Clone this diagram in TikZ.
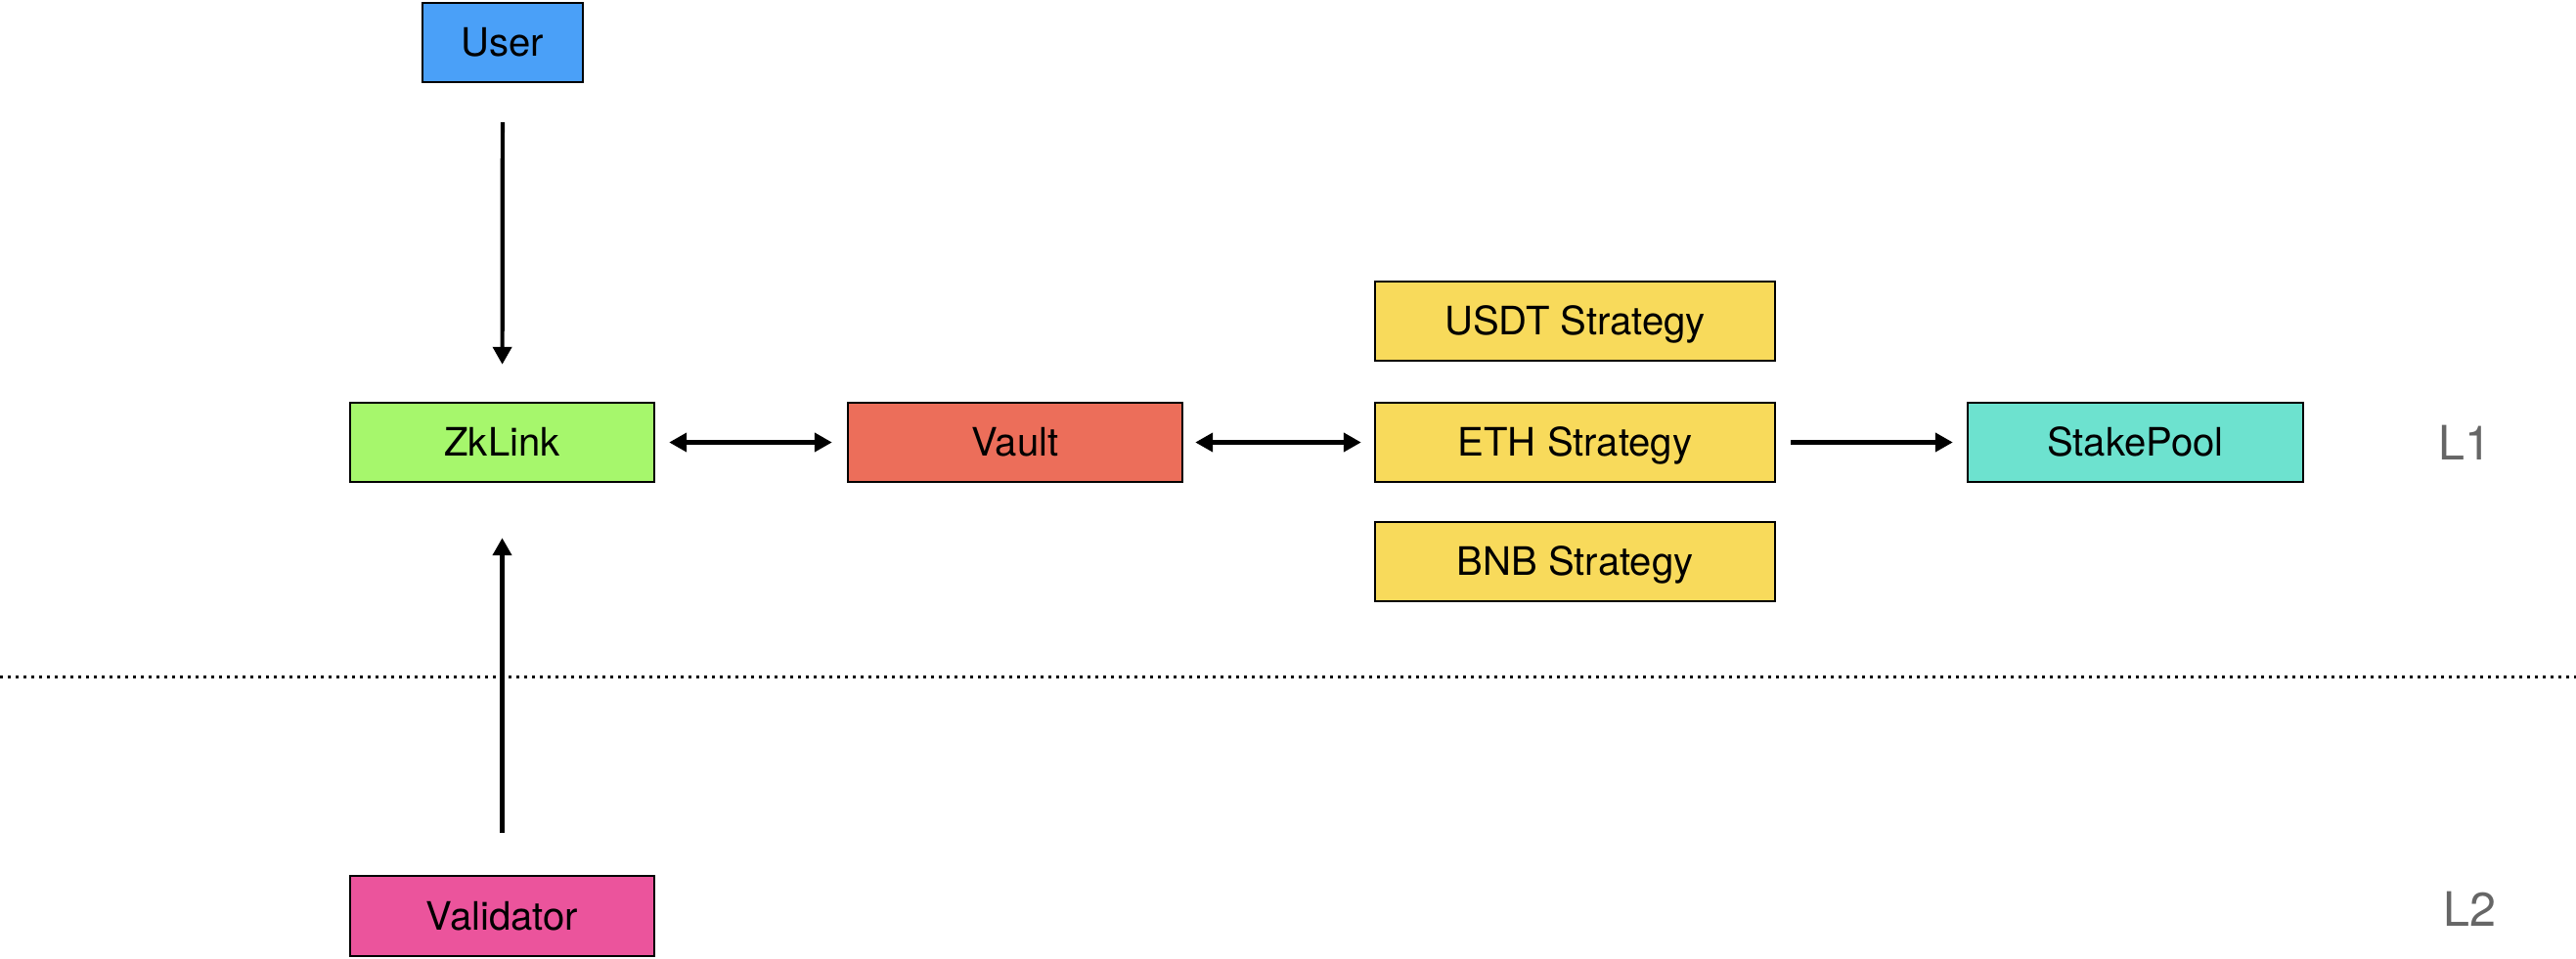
\documentclass[tikz,border=0pt]{standalone}
\usepackage{fontspec}
\setmainfont{TeX Gyre Heros}
\usetikzlibrary{arrows.meta}
\definecolor{userblue}{HTML}{4AA0F8}
\definecolor{zkgreen}{HTML}{A6F76C}
\definecolor{vaultred}{HTML}{EC6E5A}
\definecolor{stratyellow}{HTML}{F8DA5B}
\definecolor{poolteal}{HTML}{6DE2CF}
\definecolor{valpink}{HTML}{EB549C}
\definecolor{layergray}{HTML}{666666}

\begin{document}
\begin{tikzpicture}[>/.tip={Triangle[length=0.18cm,width=0.19cm]},
	box/.style={draw,line width=0.7pt,minimum height=0.81cm,inner sep=0pt,text height=8.2pt,text depth=0pt,font=\fontsize{11.4}{13}\selectfont},
	layer/.style={text=layergray,font=\fontsize{13.8}{16}\selectfont},
	link/.style={line width=1.2pt}]
	\useasboundingbox (0,0) rectangle (26.34,9.80);
	\draw (5.14,9.365) node (user) [box,fill=userblue,minimum width=1.64cm] {User};
	\draw (5.135,5.275) node (zklink) [box,fill=zkgreen,minimum width=3.11cm] {ZkLink};
	\draw (10.38,5.275) node (vault) [box,fill=vaultred,minimum width=3.42cm] {Vault};
	\draw (16.105,6.515) node (usdt) [box,fill=stratyellow,minimum width=4.09cm] {USDT Strategy};
	\draw (16.105,5.275) node (eth) [box,fill=stratyellow,minimum width=4.09cm] {ETH Strategy};
	\draw (16.105,4.055) node (bnb) [box,fill=stratyellow,minimum width=4.09cm] {BNB Strategy};
	\draw (21.835,5.275) node (pool) [box,fill=poolteal,minimum width=3.43cm] {StakePool};
	\draw (5.135,0.43) node (validator) [box,fill=valpink,minimum width=3.11cm,minimum height=0.82cm] {Validator};
	\node [layer] (l1) at (25.20,5.27) {L1};
	\node [layer] (l2) at (25.25,0.505) {L2};

	\coordinate (sepW) at (0,2.88);
	\coordinate (sepE) at (26.34,2.88);
	\draw [line width=0.03cm,dash pattern=on 0.03cm off 0.05cm] (sepW) -- (sepE);

	\draw[link,->] (user) edge [shorten <=0.4cm,shorten >=0.38cm] (zklink);
	\draw[link,<->] (zklink) edge [shorten <=0.14cm,shorten >=0.15cm] (vault);
	\draw[link,<->] (vault) edge [shorten <=0.12cm,shorten >=0.13cm] (eth);
	\draw[link,->] (eth) edge [shorten <=0.15cm,shorten >=0.14cm] (pool);
	\draw[link,->] (validator) edge [shorten <=0.43cm,shorten >=0.56cm] (zklink);
\end{tikzpicture}
\end{document}
